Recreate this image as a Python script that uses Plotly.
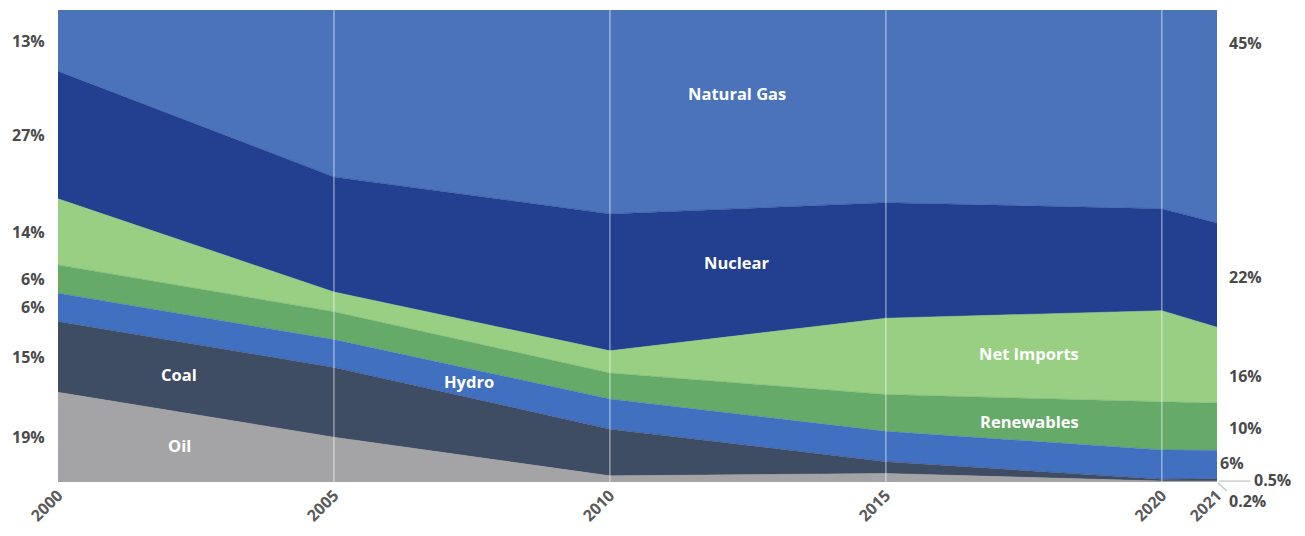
import plotly.graph_objects as go

years = [2000, 2005, 2010, 2015, 2020, 2021]
series_names = ["Oil", "Coal", "Hydro", "Renewables", "Net Imports", "Nuclear", "Natural Gas"]
oil = [19, 9.5, 1.3, 1.8, 0.2, 0.2]
coal = [15, 14.8, 9.9, 2.5, 0.4, 0.5]
hydro = [6, 5.9, 6.4, 6.4, 6.2, 6]
renewables = [6, 5.9, 5.5, 7.8, 10.2, 10]
net_imports = [14, 4.2, 4.7, 16.1, 19.3, 16]
nuclear = [27, 24.4, 29, 24.4, 21.6, 22]
natural_gas = [13, 35.4, 43.2, 40.7, 42.1, 45]
values = [oil, coal, hydro, renewables, net_imports, nuclear, natural_gas]

colors = ["#a4a4a6", "#3e4c64", "#4270c0", "#66aa6a", "#98cf82", "#223f90", "#4a73b9"]

left_labels = ["19%", "15%", "6%", "6%", "14%", "27%", "13%"]
right_labels = ["0.2%", "0.5%", "6%", "10%", "16%", "22%", "45%"]
# positions in paper coordinates (label placement, not data)
right_label_y = [-0.040, 0.004, 0.040, 0.114, 0.2246, 0.434, 0.930]
right_label_x = [1.0085, 1.0301, 1.0005, 1.0085, 1.0085, 1.0085, 1.0085]

inner_labels = ["Oil", "Coal", "Hydro", "Renewables", "Net Imports", "Nuclear", "Natural Gas"]
inner_x = [2002.2, 2002.2, 2007.45, 2017.6, 2017.6, 2012.3, 2012.3]
inner_y = [7.8, 22.8, 21.2, 12.9, 27.3, 46.5, 82.4]

FONT = "Open Sans"
fig = go.Figure()
for name, vals, col in zip(series_names, values, colors):
    fig.add_trace(go.Scatter(
        x=years, y=vals, name=name, mode="lines",
        stackgroup="one", groupnorm="percent",
        line=dict(width=0.5, color=col), fillcolor=col,
        hoverinfo="skip",
    ))

# vertical white grid lines
for yr in years[1:-1]:
    fig.add_shape(type="line", xref="x", yref="y", x0=yr, x1=yr, y0=0, y1=100,
                  line=dict(color="rgba(255,255,255,0.45)", width=1.5), layer="above")

annotations = []
cum = 0
for vals, lab in zip(values, left_labels):
    mid = cum + vals[0] / 2
    cum += vals[0]
    annotations.append(dict(x=years[0], y=mid, xref="x", yref="y", text=lab,
                            showarrow=False, xanchor="right", xshift=-11,
                            font=dict(family=FONT, size=16, color="#4a4a4a", weight=700)))
for lab, yy, xx in zip(right_labels, right_label_y, right_label_x):
    annotations.append(dict(x=xx, y=yy, xref="paper", yref="paper", text=lab,
                            showarrow=False, xanchor="left", yanchor="middle",
                            font=dict(family=FONT, size=16, color="#4a4a4a", weight=700)))
for lab, xx, yy in zip(inner_labels, inner_x, inner_y):
    annotations.append(dict(x=xx, y=yy, xref="x", yref="y", text=lab,
                            showarrow=False,
                            font=dict(family=FONT, size=16.5, color="white", weight=700)))

# leader lines for tiny values
fig.add_shape(type="line", xref="paper", yref="paper", x0=1.0017, x1=1.0285,
              y0=0.002, y1=0.002, line=dict(color="#c4c4c4", width=1.2))
fig.add_shape(type="line", xref="paper", yref="paper", x0=1.0009, x1=1.0086,
              y0=-0.002, y1=-0.019, line=dict(color="#c4c4c4", width=1.2))

fig.update_layout(
    width=1305, height=536,
    margin=dict(l=58, r=88, t=10, b=54),
    paper_bgcolor="white", plot_bgcolor="white",
    showlegend=False,
    annotations=annotations,
    font=dict(family=FONT),
)
fig.update_xaxes(range=[2000, 2021], tickvals=years, ticktext=[str(y) for y in years],
                 tickangle=-45, showgrid=False, zeroline=False, showline=False,
                 ticks="", tickfont=dict(family=FONT, size=16, color="#5a5a5a", weight=700))
fig.update_yaxes(range=[0, 100], showgrid=False, zeroline=False, showline=False,
                 showticklabels=False, ticks="")
fig.write_html("out.html")
